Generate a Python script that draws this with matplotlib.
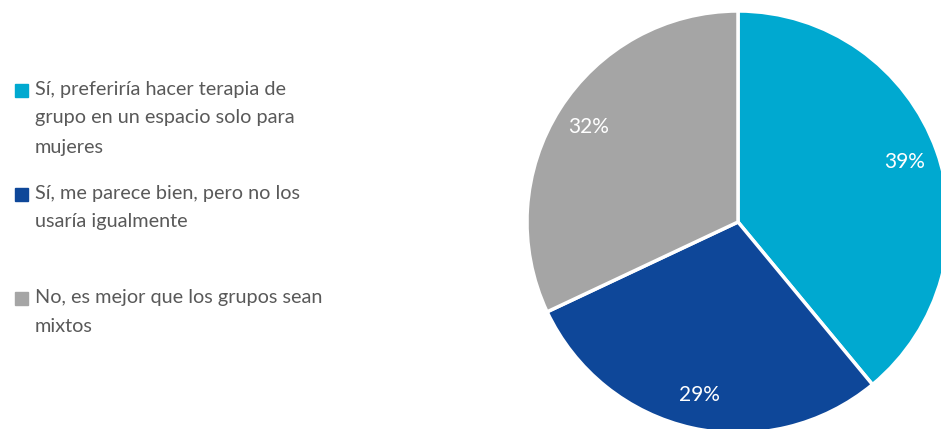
import matplotlib.pyplot as plt
from matplotlib.patches import Rectangle

# Survey answers and shares
labels = ["Sí, preferiría hacer terapia de\ngrupo en un espacio solo para\nmujeres",
          "Sí, me parece bien, pero no los\nusaría igualmente",
          "No, es mejor que los grupos sean\nmixtos"]
values = [39, 29, 32]
colors = ["#00A9D0", "#0E4799", "#A5A5A5"]

W, H = 941, 429
fig = plt.figure(figsize=(W / 100, H / 100), dpi=100)
plt.rcParams['font.family'] = ['Lato', 'DejaVu Sans']

# pie: center (738, 222) px, radius 211 px
cx, cy, r = 738, 222, 211
ax = fig.add_axes([(cx - r) / W, (H - cy - r) / H, 2 * r / W, 2 * r / H])
wedges, texts, autotexts = ax.pie(
    values, colors=colors, startangle=90, counterclock=False,
    autopct=lambda p: f"{p:.0f}%", pctdistance=0.84,
    wedgeprops=dict(edgecolor="white", linewidth=2.5),
    textprops=dict(color="white", fontsize=15))
ax.set_xlim(-1, 1)
ax.set_ylim(-1, 1)

# legend drawn by hand on the left
entry_y = [89, 193, 297]
line_h = 29
for lab, col, y0 in zip(labels, colors, entry_y):
    fig.patches.append(Rectangle((15 / W, 1 - (y0 + 8) / H), 13 / W, 13 / H,
                                 transform=fig.transFigure, color=col))
    for i, line in enumerate(lab.split("\n")):
        fig.text(35 / W, 1 - (y0 + i * line_h) / H, line, fontsize=14.3,
                 color="#595959", va="center", ha="left")

fig.savefig("out.png", dpi=100)
